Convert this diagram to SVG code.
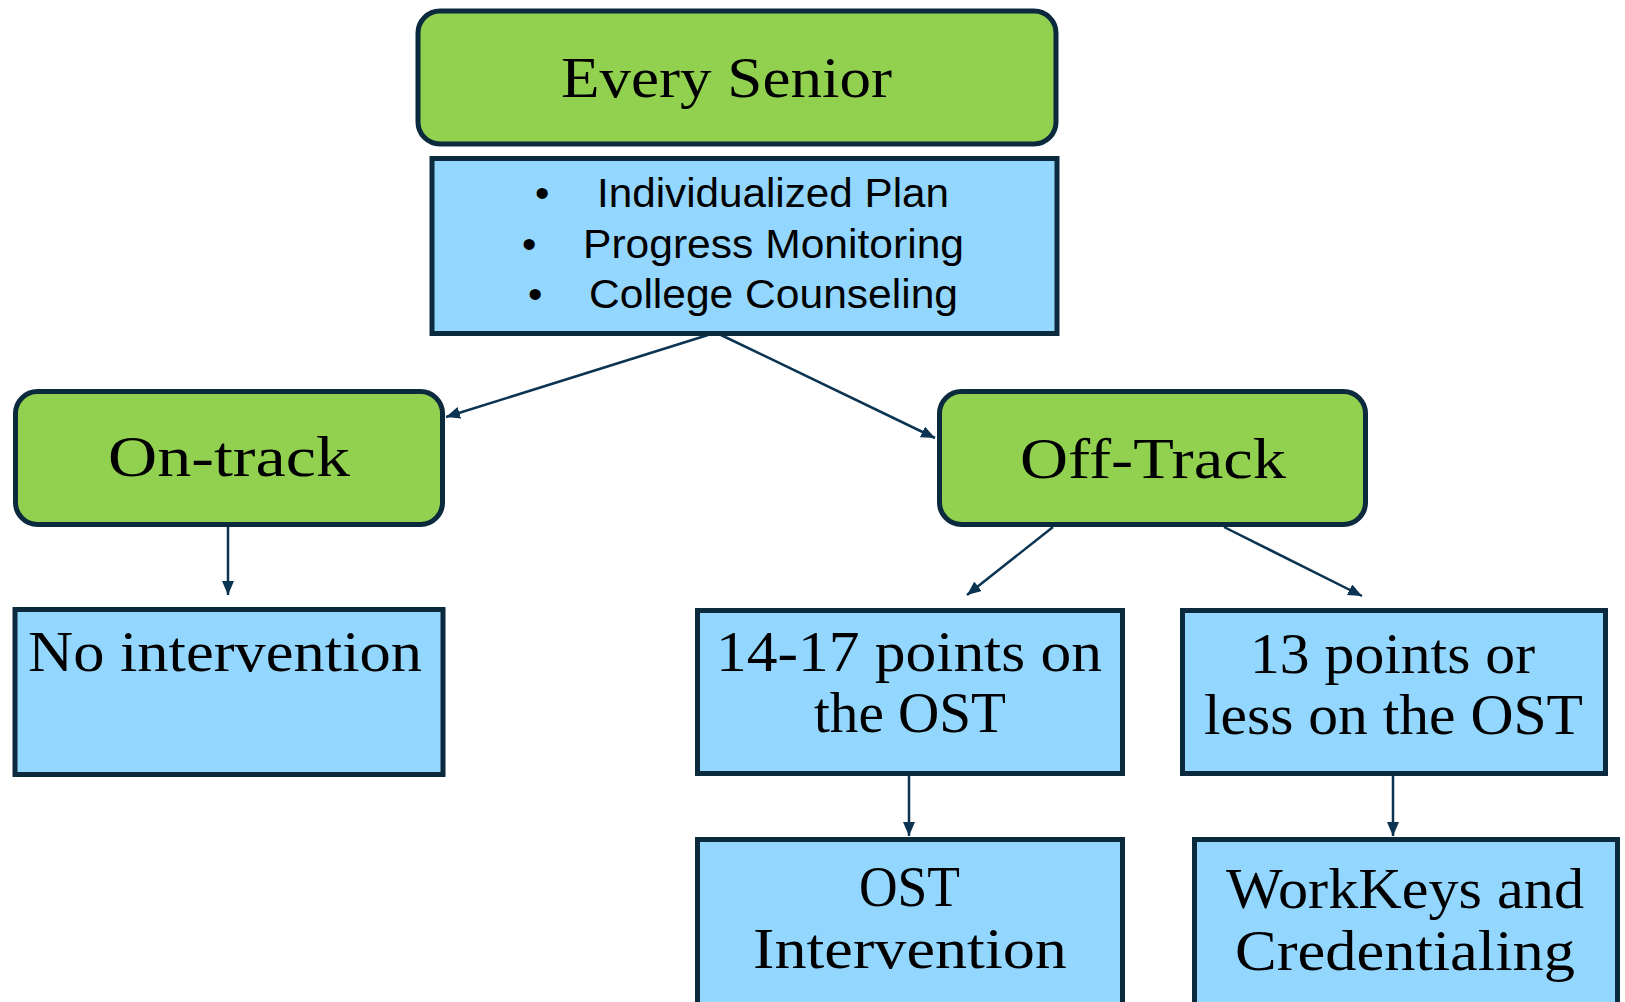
<svg xmlns="http://www.w3.org/2000/svg" width="1625" height="1002" viewBox="0 0 1625 1002">
<style>
.g{fill:#92D050;stroke:#0C2A3E;stroke-width:5}
.b{fill:#93D6FE;stroke:#0C2A3E;stroke-width:5}
.s{font-family:"Liberation Serif","Times New Roman",serif;font-size:58px;fill:#000;text-anchor:middle}
.a{font-family:"Liberation Sans",Arial,sans-serif;font-size:41px;fill:#000}
.c{stroke:#0B3352;stroke-width:2.5;fill:none;marker-end:url(#ah)}
</style>
<defs>
<marker id="ah" markerUnits="userSpaceOnUse" viewBox="0 0 14 12" markerWidth="14" markerHeight="12" refX="14" refY="6" orient="auto">
<path d="M0,0 L14,6 L0,12 z" fill="#0B3352"/>
</marker>
</defs>
<rect width="1625" height="1002" fill="#fff"/>
<g id="connectors">
<line class="c" x1="708" y1="335" x2="446" y2="417"/>
<line class="c" x1="721" y1="335" x2="935" y2="438"/>
<line class="c" x1="228" y1="527" x2="228" y2="595"/>
<line class="c" x1="1053" y1="527" x2="967" y2="595"/>
<line class="c" x1="1224" y1="527" x2="1362" y2="596"/>
<line class="c" x1="909" y1="776" x2="909" y2="836"/>
<line class="c" x1="1393" y1="776" x2="1393" y2="836"/>
</g>
<g id="every-senior">
<rect class="g" x="418" y="11" width="638" height="133" rx="22"/>
<text class="s" x="726.5" y="97" textLength="331" lengthAdjust="spacingAndGlyphs">Every Senior</text>
</g>
<g id="supports">
<rect class="b" x="432" y="158.5" width="625" height="175"/>
<text class="a" x="535" y="207">•</text>
<text class="a" x="597" y="207" textLength="352" lengthAdjust="spacingAndGlyphs">Individualized Plan</text>
<text class="a" x="522" y="258">•</text>
<text class="a" x="583" y="258" textLength="381" lengthAdjust="spacingAndGlyphs">Progress Monitoring</text>
<text class="a" x="528" y="308">•</text>
<text class="a" x="589" y="308" textLength="369" lengthAdjust="spacingAndGlyphs">College Counseling</text>
</g>
<g id="on-track">
<rect class="g" x="15.5" y="391.5" width="427" height="133" rx="22"/>
<text class="s" x="229" y="476" textLength="242" lengthAdjust="spacingAndGlyphs">On-track</text>
</g>
<g id="off-track">
<rect class="g" x="939.5" y="391.5" width="426" height="133" rx="22"/>
<text class="s" x="1153" y="478" textLength="266" lengthAdjust="spacingAndGlyphs">Off-Track</text>
</g>
<g id="no-intervention">
<rect class="b" x="15" y="609.5" width="428" height="165"/>
<text class="s" x="225" y="671" textLength="394" lengthAdjust="spacingAndGlyphs">No intervention</text>
</g>
<g id="points-14-17">
<rect class="b" x="697.5" y="610.5" width="425" height="163"/>
<text class="s" x="909" y="671" textLength="386" lengthAdjust="spacingAndGlyphs">14-17 points on</text>
<text class="s" x="910" y="732" textLength="192" lengthAdjust="spacingAndGlyphs">the OST</text>
</g>
<g id="points-13">
<rect class="b" x="1182.5" y="610.5" width="423" height="163"/>
<text class="s" x="1392.5" y="673" textLength="285" lengthAdjust="spacingAndGlyphs">13 points or</text>
<text class="s" x="1393.5" y="734" textLength="379" lengthAdjust="spacingAndGlyphs">less on the OST</text>
</g>
<g id="ost-intervention">
<rect class="b" x="697.5" y="839.5" width="425" height="200"/>
<text class="s" x="909.5" y="906" textLength="101" lengthAdjust="spacingAndGlyphs">OST</text>
<text class="s" x="910" y="968" textLength="314" lengthAdjust="spacingAndGlyphs">Intervention</text>
</g>
<g id="workkeys">
<rect class="b" x="1194.5" y="839.5" width="423" height="200"/>
<text class="s" x="1405" y="908" textLength="358" lengthAdjust="spacingAndGlyphs">WorkKeys and</text>
<text class="s" x="1405" y="970" textLength="340" lengthAdjust="spacingAndGlyphs">Credentialing</text>
</g>
</svg>
